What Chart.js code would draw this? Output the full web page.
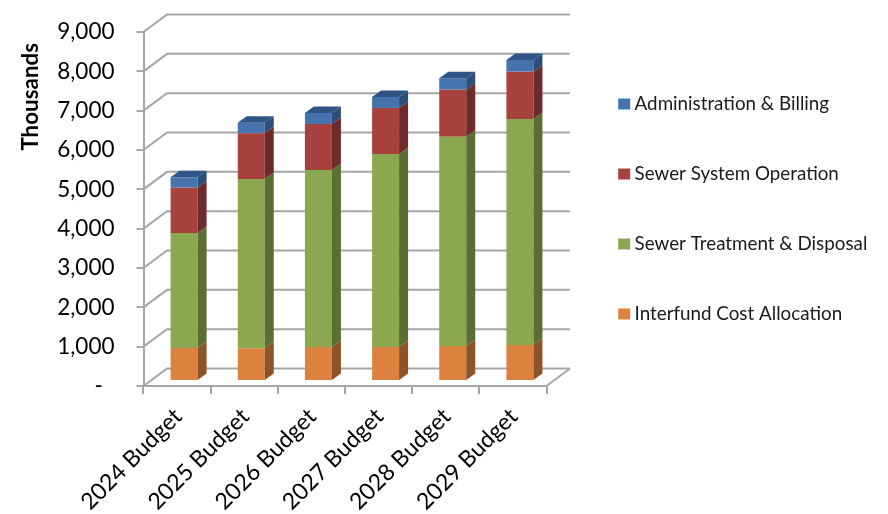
<!DOCTYPE html>
<html>
<head>
<meta charset="utf-8">
<style>
  html, body { margin: 0; padding: 0; background: #fff; }
  canvas { display: block; filter: blur(0.4px); }
</style>
<script src="https://cdn.jsdelivr.net/npm/chart.js@4"></script>
</head>
<body>
<canvas id="budgetChart" width="888" height="514"></canvas>
<script>
// chart values (thousands)
const categories = ['2024 Budget', '2025 Budget', '2026 Budget', '2027 Budget', '2028 Budget', '2029 Budget'];
const interfund = [839, 831, 864, 864, 890, 915];
const treatment = [2924, 4305, 4501, 4908, 5322, 5747];
const systemOps = [1152, 1162, 1170, 1170, 1195, 1203];
const admin = [264, 270, 280, 279, 290, 297];
const yTickLabels = ['-  ', '1,000', '2,000', '3,000', '4,000', '5,000', '6,000', '7,000', '8,000', '9,000'];

const GREY = '#a6a6a6';
const FONT = 'Lato';

// fake 3D: wall depth, where the bars stand on the floor, and bar thickness
const WALL = { x: 23.5, y: -17.5 };
const BAR_SHIFT = { x: 7, y: -5 };
const BAR_DEPTH = { x: 9, y: -6.5 };

const sideColors = ['#8e5428', '#5b6e33', '#6e2b29', '#2d4e78'];
const topColor = '#2f5586';

function polygon(ctx, points, color) {
    ctx.fillStyle = color;
    ctx.beginPath();
    points.forEach((p, i) => i ? ctx.lineTo(p[0], p[1]) : ctx.moveTo(p[0], p[1]));
    ctx.closePath();
    ctx.fill();
}

const fake3d = {
    id: 'fake3d',
    afterLayout(chart) {
        // legend sits well to the right of the plot
        const legend = chart.legend;
        legend.left = 572;
        legend.right = 888;
        legend.top = 104 - 9.5 - 51;
        legend.bottom = 514;
    },
    beforeDatasetsDraw(chart) {
        const { ctx, chartArea, scales } = chart;
        ctx.save();
        ctx.strokeStyle = GREY;
        ctx.lineWidth = 2;

        // back wall lines and the diagonals running to them from the value axis
        scales.y.ticks.forEach(t => {
            const py = scales.y.getPixelForValue(t.value);
            ctx.beginPath();
            ctx.moveTo(chartArea.left, py);
            ctx.lineTo(chartArea.left + WALL.x, py + WALL.y);
            ctx.lineTo(chartArea.right + WALL.x, py + WALL.y);
            ctx.stroke();
        });

        // right edge of the floor
        const floorY = scales.y.getPixelForValue(0);
        ctx.beginPath();
        ctx.moveTo(chartArea.right, floorY);
        ctx.lineTo(chartArea.right + WALL.x, floorY + WALL.y);
        ctx.stroke();
        ctx.restore();

        // the bars themselves are drawn shifted back onto the floor
        ctx.save();
        ctx.translate(BAR_SHIFT.x, BAR_SHIFT.y);
    },
    afterDatasetsDraw(chart) {
        const { ctx } = chart;
        chart.data.datasets.forEach((ds, i) => {
            chart.getDatasetMeta(i).data.forEach(bar => {
                const right = bar.x + bar.width / 2;
                const left = bar.x - bar.width / 2;
                polygon(ctx, [
                    [right, bar.y],
                    [right + BAR_DEPTH.x, bar.y + BAR_DEPTH.y],
                    [right + BAR_DEPTH.x, bar.base + BAR_DEPTH.y],
                    [right, bar.base]
                ], sideColors[i]);
                if (i === chart.data.datasets.length - 1) {
                    polygon(ctx, [
                        [left, bar.y],
                        [left + BAR_DEPTH.x, bar.y + BAR_DEPTH.y],
                        [right + BAR_DEPTH.x, bar.y + BAR_DEPTH.y],
                        [right, bar.y]
                    ], topColor);
                }
            });
        });
        ctx.restore();
    }
};

function makeDataset(label, data, color) {
    return { label: label, data: data, backgroundColor: color, borderWidth: 0, clip: false };
}

new Chart(document.getElementById('budgetChart').getContext('2d'), {
    type: 'bar',
    data: {
        labels: categories,
        datasets: [
            makeDataset('Interfund Cost Allocation', interfund, '#dd823e'),
            makeDataset('Sewer Treatment & Disposal', treatment, '#8aa84f'),
            makeDataset('Sewer System Operation', systemOps, '#a8423f'),
            makeDataset('Administration & Billing', admin, '#4473ad')
        ]
    },
    plugins: [fake3d],
    options: {
        responsive: false,
        animation: false,
        layout: { padding: { left: 0, top: 32, right: 341.5, bottom: 0 } },
        datasets: { bar: { categoryPercentage: 1, barPercentage: 0.402 } },
        plugins: {
            tooltip: { enabled: false },
            legend: {
                position: 'chartArea',
                align: 'start',
                reverse: true,
                labels: {
                    color: '#1a1a1a',
                    font: { family: FONT, size: 18.8 },
                    boxWidth: 2,
                    boxHeight: 1,
                    padding: 51.2,
                    generateLabels(chart) {
                        // thick stroke widens the small box to the swatch size
                        return Chart.defaults.plugins.legend.labels.generateLabels(chart).map(item => {
                            item.strokeStyle = item.fillStyle;
                            item.lineWidth = 10;
                            return item;
                        });
                    }
                }
            }
        },
        scales: {
            x: {
                stacked: true,
                afterFit(scale) { scale.height = 128; },
                border: { color: GREY, width: 2 },
                grid: { drawOnChartArea: false, color: GREY, lineWidth: 2, tickLength: 8 },
                ticks: {
                    color: '#000',
                    font: { family: FONT, size: 23 },
                    minRotation: 45,
                    maxRotation: 45,
                    padding: 9,
                    labelOffset: 1
                }
            },
            y: {
                stacked: true,
                min: 0,
                max: 9000,
                afterFit(scale) {
                    scale.width = 143.5;
                    // tick padding would otherwise push the plot top down
                    scale.paddingTop = 0;
                    scale.paddingBottom = 0;
                },
                border: { color: GREY, width: 2 },
                grid: { drawOnChartArea: false, color: GREY, lineWidth: 2, tickLength: 7 },
                ticks: {
                    stepSize: 1000,
                    color: '#000',
                    font: { family: FONT, size: 22.5 },
                    padding: 22,
                    callback: (value, index) => yTickLabels[index]
                },
                title: {
                    display: true,
                    text: 'Thousands  ',
                    align: 'end',
                    color: '#000',
                    font: { family: FONT, size: 22.4, weight: 'bold' },
                    padding: { top: 17.5, bottom: 0 }
                }
            }
        }
    }
});
</script>
</body>
</html>
